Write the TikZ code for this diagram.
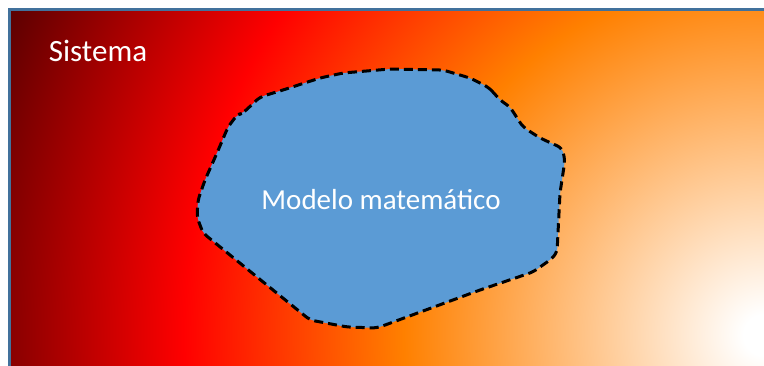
\documentclass[tikz,border=0pt]{standalone}
\usepackage{fontspec}
\setmainfont{Carlito}
\definecolor{orangeA}{HTML}{FF8000}
\definecolor{darkA}{HTML}{560000}
\definecolor{frameblue}{HTML}{41719C}
\definecolor{blobblue}{HTML}{5B9BD5}
\pgfdeclareradialshading{sysgrad}{\pgfpoint{0bp}{0bp}}{%
 color(0bp)=(white);
 color(0.6bp)=(white);
 color(10.6bp)=(orangeA);
 color(17.06bp)=(red);
 color(24.4bp)=(darkA);
 color(50bp)=(darkA)}
\tikzset{
 frame/.style={draw=frameblue, line width=2.8pt},
 blob/.style={fill=blobblue, draw=black, line width=3pt, dash pattern=on 9pt off 5pt, rounded corners=5pt},
 label/.style={text=white, inner sep=0pt, anchor=base}
}
\begin{document}
\begin{tikzpicture}[x=1pt,y=-1pt]
\useasboundingbox (0,0) rectangle (764,366);
\fill[white] (0,0) rectangle (764,366);
\begin{scope}
\clip (9.5,9.5) rectangle (775,375);
\shade[shading=sysgrad] (764,335) circle[radius=850];
\end{scope}
\draw[frame] (9.5,9.5) rectangle (775,375);
\path[blob] (343,73) -- (390,69) -- (443,70) -- (470,78) -- (488,87) -- (493,92) -- (500,100)
 -- (510,107) -- (523,127) -- (540,138) -- (562,148) -- (565,160) -- (560,193) -- (557,253)
 -- (550,260) -- (533,272) -- (480,290) -- (377,328) -- (347,327) -- (310,320) -- (257,277)
 -- (203,233) -- (197,217) -- (198,200) -- (205,180) -- (217,153) -- (228,127) -- (237,115)
 -- (243,113) -- (260,97) -- (283,90) -- (320,78) -- cycle;
\node[label, font=\fontsize{31}{37}\selectfont] (sis) at (98,62) {Sistema};
\node[label, font=\fontsize{29}{35}\selectfont] (mod) at (381,210) {Modelo matemático};
\end{tikzpicture}
\end{document}
